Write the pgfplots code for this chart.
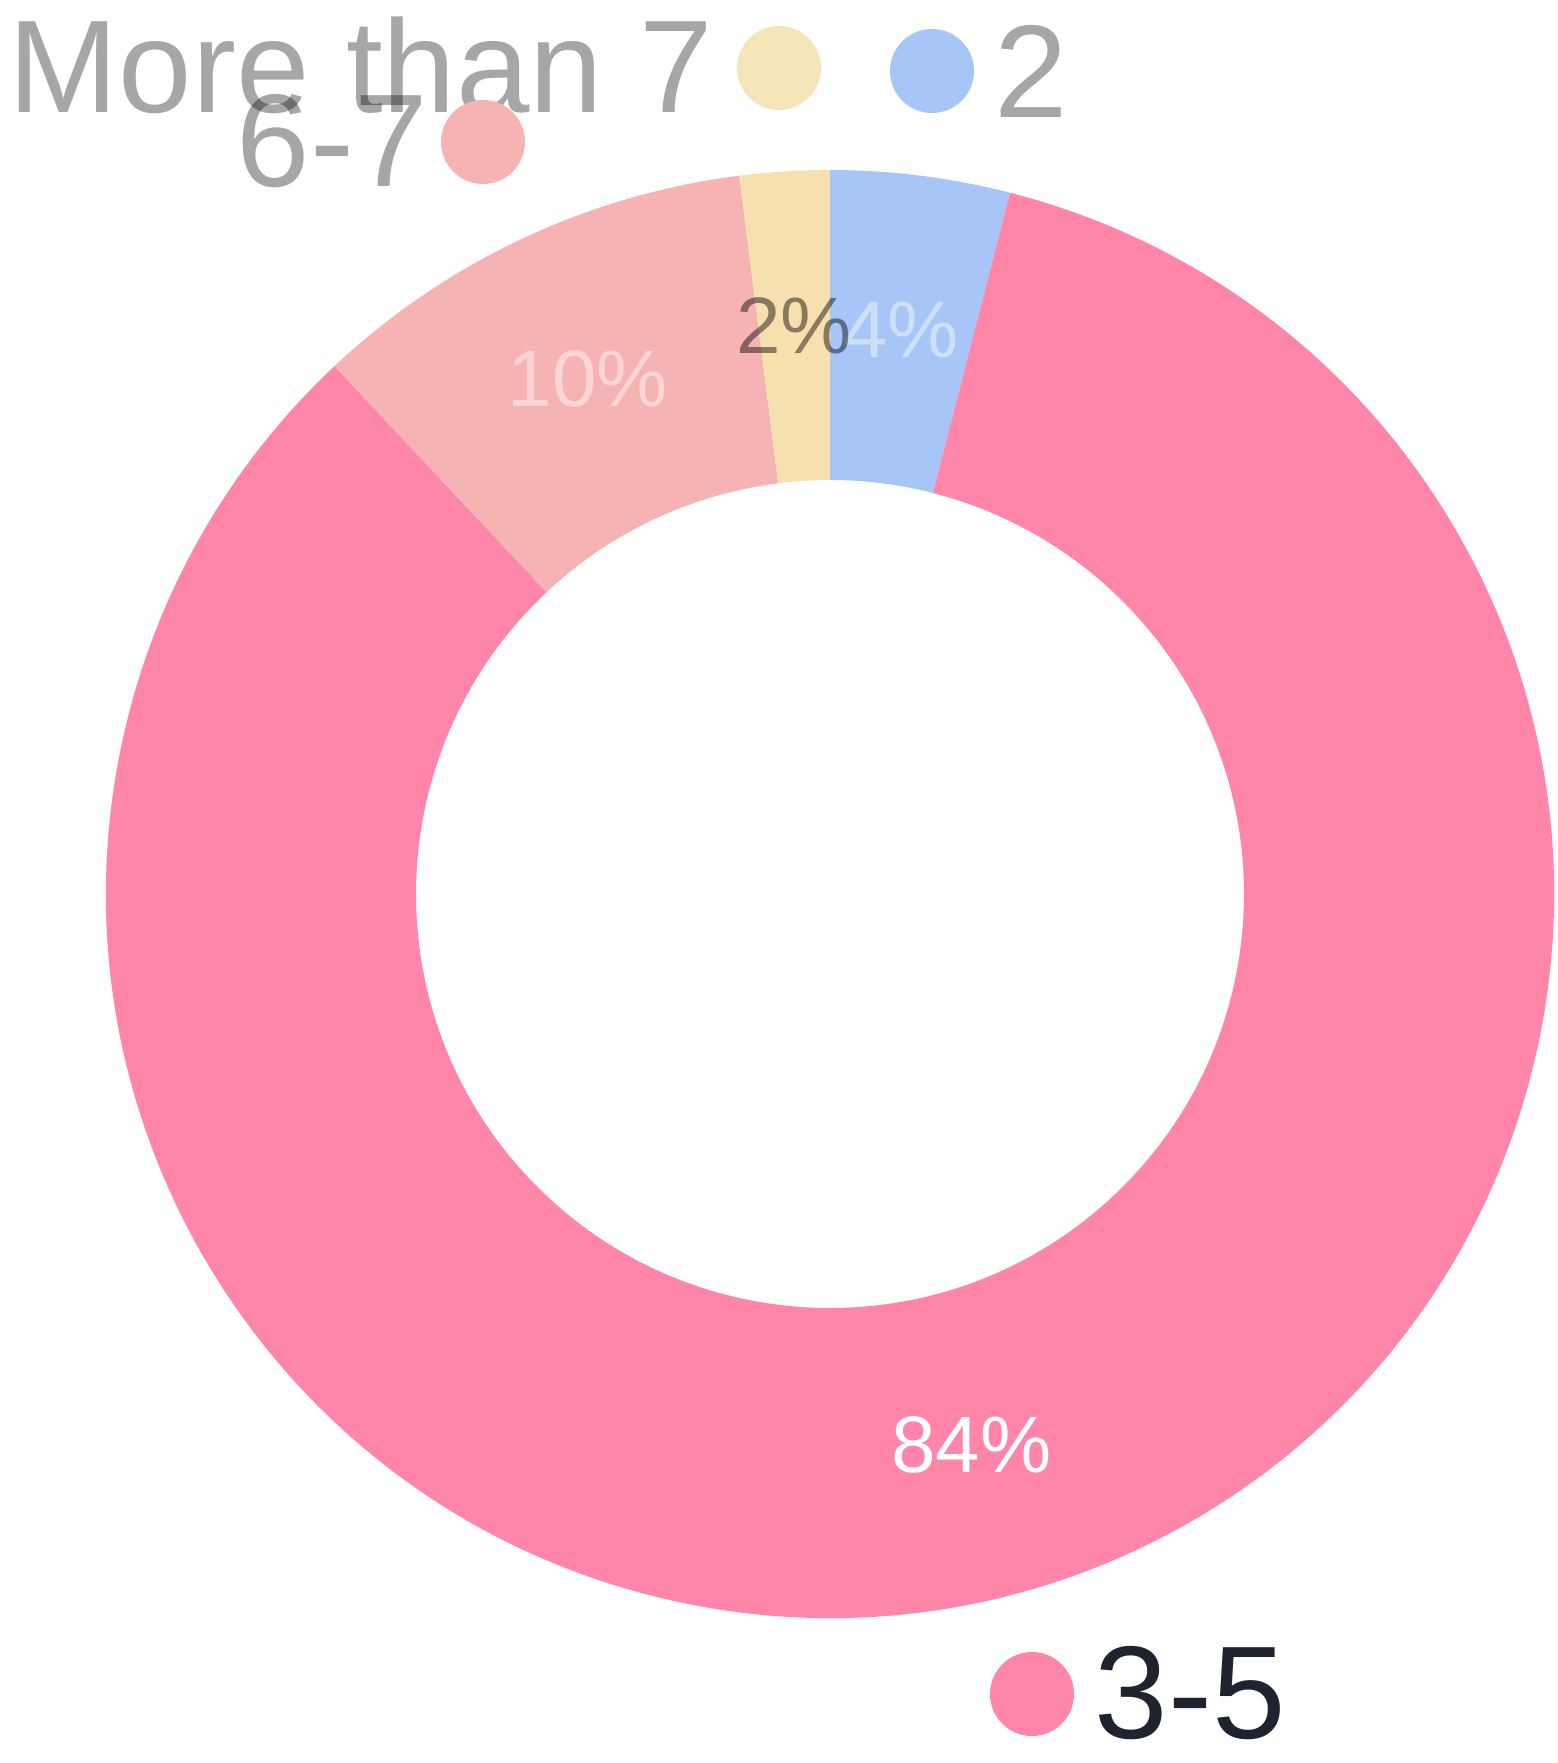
\documentclass[border=0pt]{standalone}
\usepackage{pgfplots}
\usepackage{pgfplotstable}
\pgfplotsset{compat=1.18}
\usetikzlibrary{calc}
\usepackage{fontspec}
\setmainfont{Liberation Sans}

\definecolor{c0}{HTML}{A7C5F6}
\definecolor{c1}{HTML}{FF85A9}
\definecolor{c2}{HTML}{F6B3B4}
\definecolor{c3}{HTML}{F6E0AE}
\definecolor{darktxt}{HTML}{1F2330}

% slice values (percent), clockwise from the top
\pgfplotstableread{
idx label value
0 2 4
1 3-5 84
2 6-7 10
3 {More than 7} 2
}\slices

\begin{document}
\begin{tikzpicture}
\begin{axis}[
    scale only axis,
    width=389.25pt, height=440.75pt,
    xmin=0, xmax=1557, ymin=0, ymax=1763,
    y dir=reverse,
    hide axis,
    clip=false,
]
\def\cum{0}
\pgfplotsforeachungrouped \i in {0,...,3}{
  \pgfplotstablegetelem{\i}{value}\of\slices
  \let\v\pgfplotsretval
  \pgfmathsetmacro\a{90-3.6*\cum}
  \pgfmathsetmacro\b{90-3.6*(\cum+\v)}
  \pgfmathsetmacro\m{(\a+\b)/2}
  \pgfmathtruncatemacro\vv{\v}
  \edef\cmd{\noexpand\fill[c\i] (axis cs:830,894) ++(\a:181pt)
      arc[start angle=\a, end angle=\b, radius=181pt] -- ++(\b:-77.5pt)
      arc[start angle=\b, end angle=\a, radius=103.5pt] -- cycle;}
  \cmd
  \ifcase\i
    \def\lst{text=white, text opacity=0.45}\or
    \def\lst{text=white}\or
    \def\lst{text=white, text opacity=0.45}\or
    \def\lst{text=black, text opacity=0.45}\fi
  \edef\cmd{\noexpand\node[\lst, font=\noexpand\fontsize{20pt}{24pt}\noexpand\selectfont]
      at ($(axis cs:830,894)+(\m:142.25pt)$) {\vv\noexpand\%};}
  \cmd
  \pgfmathsetmacro\cum{\cum+\v}
}

% legend
\node[anchor=base west, inner sep=0, text=black, text opacity=0.35,
      font=\fontsize{33pt}{36pt}\selectfont] at (axis cs:8,113) {More than 7};
\node[anchor=base west, inner sep=0, text=black, text opacity=0.35,
      font=\fontsize{33pt}{36pt}\selectfont] at (axis cs:236,187) {6-7};
\node[anchor=base west, inner sep=0, text=black, text opacity=0.35,
      font=\fontsize{33pt}{36pt}\selectfont] at (axis cs:994,118) {2};
\node[anchor=base west, inner sep=0, text=darktxt,
      font=\fontsize{33pt}{36pt}\selectfont] at (axis cs:1094,1738) {3-5};
\fill[c3!85!white] (axis cs:779,68) circle[radius=10.5pt];
\fill[c0] (axis cs:932,71) circle[radius=10.5pt];
\fill[c2] (axis cs:483,142) circle[radius=10.5pt];
\fill[c1] (axis cs:1032,1694) circle[radius=10.5pt];
\end{axis}
\pgfresetboundingbox
\useasboundingbox (current axis.south west) rectangle (current axis.north east);
\end{tikzpicture}
\end{document}
